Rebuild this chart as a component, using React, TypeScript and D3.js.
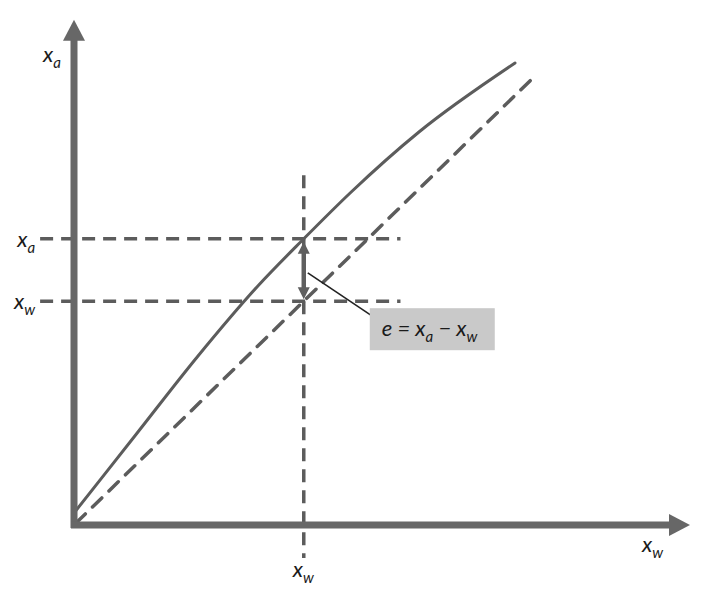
import React from 'react';
import * as d3 from 'd3';

const curveXw = [0, 10, 20, 30, 37.3, 45, 56, 71.6];
const curveXa = [2, 15, 28, 40, 47.7, 55.5, 65.5, 77];

// ideal line x_a = x_w
const idealXw = [0, 75.2];

// the marked operating point
const pointXw = 37.3;

const xMax = 100;
const yMax = 84.2;

const W = 711;
const H = 600;
const GREY = '#5c5c5c';
const AXIS = '#676767';
const FONT = 'Lato, "Open Sans", "Liberation Sans", sans-serif';

const Sym: React.FC<{ x: number; y: number; main: string; sub: string; anchor?: string }> = ({ x, y, main, sub, anchor = 'start' }) => (
  <text x={x} y={y} textAnchor={anchor} fontFamily={FONT} fontStyle="italic" fontSize={22} fill="#1a1a1a">
    {main}
    <tspan fontSize={15} dy={6}>{sub}</tspan>
  </text>
);

const App: React.FC = () => {
  const x = d3.scaleLinear().domain([0, xMax]).range([74, 690]);
  const y = d3.scaleLinear().domain([0, 100]).range([525, -75]);

  const curveLine = d3.line<number>()
    .x(d => x(curveXw[d]))
    .y(d => y(curveXa[d]))
    .curve(d3.curveMonotoneX);
  const curvePath = curveLine(curveXw.map((_, i) => i)) || '';

  const pointXa = d3.scaleLinear().domain(curveXw).range(curveXa)(pointXw);
  const px = x(pointXw);
  const pyA = y(pointXa);
  const pyW = y(pointXw);

  const guideStart = x(-5.5);
  const guideEnd = x(53);
  const vTop = y(58.3);
  const vBottom = y(-5.5);

  const ox = x(0);
  const oy = y(0);
  const xTip = x(xMax);
  const yTip = y(yMax);

  const head = 11;
  const headLen = 21;

  const ah = 6;
  const ahLen = 12;

  return (
    <svg width={W} height={H} style={{ position: 'absolute', left: 0, top: 0, background: '#fff' }}>
      {/* guide lines */}
      <g stroke={GREY} strokeWidth={3.5} strokeDasharray="13 8" fill="none">
        <line x1={guideStart} x2={guideEnd} y1={pyA} y2={pyA} />
        <line x1={guideStart} x2={guideEnd} y1={pyW} y2={pyW} />
        <line x1={px} x2={px} y1={vTop} y2={vBottom} />
      </g>

      {/* ideal line */}
      <line
        x1={x(idealXw[0]) + 2} y1={y(idealXw[0]) - 2}
        x2={x(idealXw[1])} y2={y(idealXw[1])}
        stroke={GREY} strokeWidth={3.5} strokeDasharray="13 10" strokeLinecap="round"
      />

      {/* actual curve */}
      <path d={curvePath} fill="none" stroke={GREY} strokeWidth={3} strokeLinecap="round" />

      {/* axes */}
      <g fill={AXIS} stroke="none">
        <line x1={ox} y1={oy + 3} x2={ox} y2={yTip + headLen - 1} stroke={AXIS} strokeWidth={7} />
        <line x1={ox - 3} y1={oy} x2={xTip - headLen + 1} y2={oy} stroke={AXIS} strokeWidth={7} />
        <polygon points={`${ox},${yTip} ${ox - head},${yTip + headLen} ${ox + head},${yTip + headLen}`} />
        <polygon points={`${xTip},${oy} ${xTip - headLen},${oy - head} ${xTip - headLen},${oy + head}`} />
      </g>

      {/* error arrow */}
      <g fill="#5f5f5f">
        <line x1={px} x2={px} y1={pyA + ahLen} y2={pyW - ahLen} stroke="#5f5f5f" strokeWidth={4.5} />
        <polygon points={`${px},${pyA + 3} ${px - ah},${pyA + 3 + ahLen} ${px + ah},${pyA + 3 + ahLen}`} />
        <polygon points={`${px},${pyW - 2} ${px - ah},${pyW - 2 - ahLen} ${px + ah},${pyW - 2 - ahLen}`} />
      </g>

      {/* annotation */}
      <line x1={px + 4} y1={pyA + 34} x2={px + 76} y2={pyW + 20} stroke="#222" strokeWidth={1.6} />
      <rect x={px + 66} y={pyW + 7} width={125} height={42} fill="#c9c9c9" />
      <text x={px + 78} y={pyW + 35} fontFamily={FONT} fontStyle="italic" fontSize={22} fill="#1a1a1a">
        e = x
        <tspan fontSize={15} dy={6}>a</tspan>
        <tspan dy={-6}> − x</tspan>
        <tspan fontSize={15} dy={6}>w</tspan>
      </text>

      {/* labels */}
      <Sym x={43} y={62} main="x" sub="a" />
      <Sym x={guideStart - 5} y={pyA + 8} main="x" sub="a" anchor="end" />
      <Sym x={guideStart - 5} y={pyW + 8} main="x" sub="w" anchor="end" />
      <Sym x={px - 11} y={577} main="x" sub="w" />
      <Sym x={642} y={552} main="x" sub="w" />
    </svg>
  );
};

export default App;
